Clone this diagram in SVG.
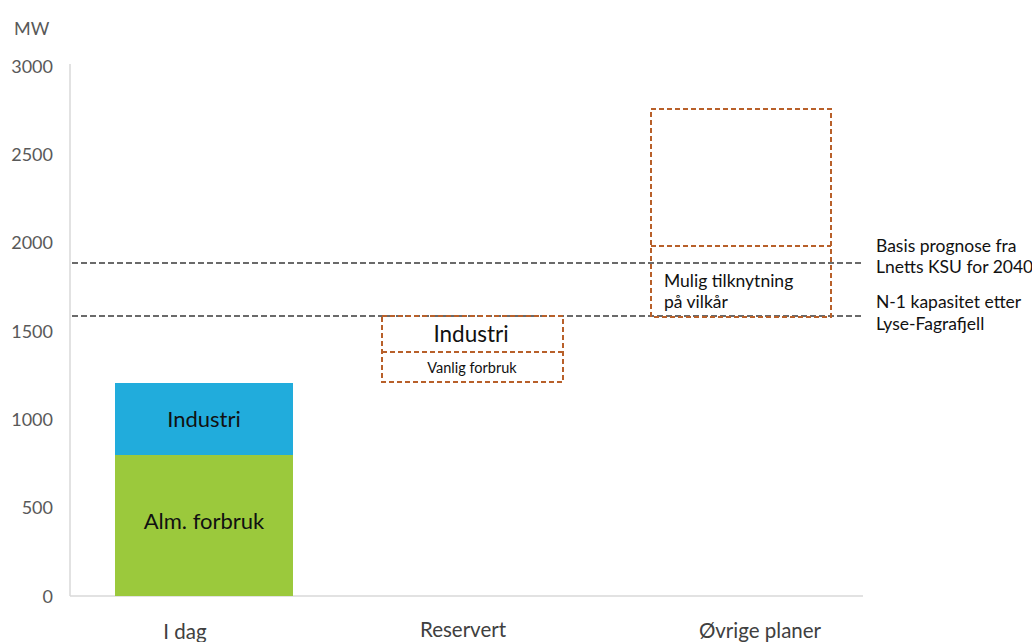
<svg xmlns="http://www.w3.org/2000/svg" width="1032" height="642" viewBox="0 0 1032 642">
<style>
.ax{font-family:Lato,"Open Sans","Liberation Sans",sans-serif;font-size:18px;fill:#595959;}
.cat{font-family:Lato,"Open Sans","Liberation Sans",sans-serif;font-size:20.5px;fill:#404040;text-anchor:middle;}
.lbl{font-family:Lato,"Open Sans","Liberation Sans",sans-serif;fill:#111111;text-anchor:middle;}
.side{font-family:Lato,"Open Sans","Liberation Sans",sans-serif;font-size:17.5px;fill:#111111;}
.ref{stroke:#3a3a3a;stroke-width:1.6;stroke-dasharray:6 3;fill:none;}
.box{stroke:#b8602a;stroke-width:2;stroke-dasharray:5 3;fill:none;}
</style>
<rect width="1032" height="642" fill="#ffffff"/>
<g id="axes">
<line x1="70" y1="64" x2="70" y2="596" stroke="#d9d9d9" stroke-width="1.5"/>
<line x1="70" y1="596" x2="863" y2="596" stroke="#d9d9d9" stroke-width="1.5"/>
<text class="ax" x="14" y="35">MW</text>
<g text-anchor="end">
<text class="ax" x="53" y="73">3000</text>
<text class="ax" x="53" y="161">2500</text>
<text class="ax" x="53" y="249">2000</text>
<text class="ax" x="53" y="338">1500</text>
<text class="ax" x="53" y="426">1000</text>
<text class="ax" x="53" y="514">500</text>
<text class="ax" x="53" y="603">0</text>
</g>
<text class="cat" x="185" y="639">I dag</text>
<text class="cat" x="463" y="637">Reservert</text>
<text class="cat" x="760" y="638">Øvrige planer</text>
</g>
<g id="idag">
<rect x="115" y="455" width="178" height="141" fill="#9bc93c"/>
<rect x="115" y="383" width="178" height="72" fill="#21acdc"/>
<text class="lbl" x="204" y="427" font-size="22">Industri</text>
<text class="lbl" x="204" y="529" font-size="22">Alm. forbruk</text>
</g>
<g id="connectors">
<line class="ref" x1="72" y1="263" x2="864" y2="263"/>
<line class="ref" x1="72" y1="316" x2="864" y2="316"/>
</g>
<g id="reservert">
<rect class="box" x="382" y="316" width="181" height="66"/>
<line class="box" x1="382" y1="352" x2="563" y2="352"/>
<text class="lbl" x="471" y="342" font-size="22.5">Industri</text>
<text class="lbl" x="472" y="373" font-size="14.5">Vanlig forbruk</text>
</g>
<g id="ovrige">
<rect class="box" x="651" y="109" width="180" height="208"/>
<line class="box" x1="651" y1="246" x2="831" y2="246"/>
<text class="side" x="664" y="287">Mulig tilknytning</text>
<text class="side" x="664" y="308">på vilkår</text>
</g>
<g id="legend">
<text class="side" x="876" y="252">Basis prognose fra</text>
<text class="side" x="876" y="273">Lnetts KSU for 2040</text>
<text class="side" x="876" y="308">N-1 kapasitet etter</text>
<text class="side" x="876" y="330">Lyse-Fagrafjell</text>
</g>
</svg>
